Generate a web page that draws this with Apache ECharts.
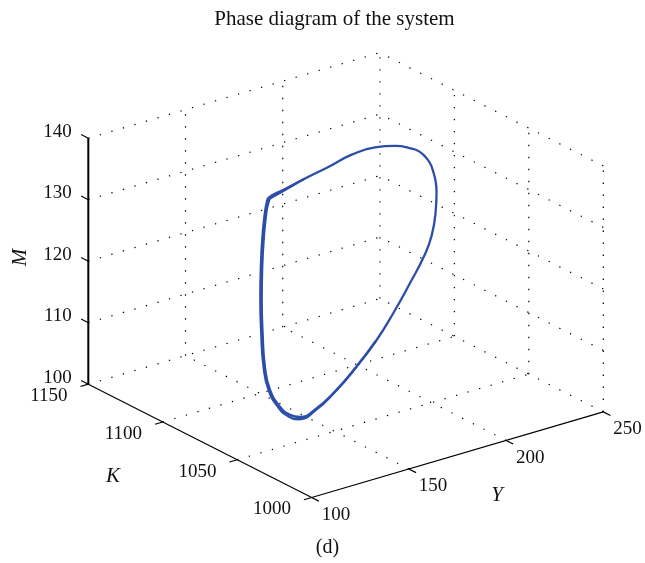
<!DOCTYPE html>
<html><head><meta charset="utf-8">
<script src="https://cdn.jsdelivr.net/npm/echarts@6/dist/echarts.min.js"></script>
<style>html,body{margin:0;padding:0;background:#fff}#c{width:645px;height:563px}</style>
</head><body><div id="c"></div>
<script>
// ---- data ----
const titleText = 'Phase diagram of the system';
const captionText = '(d)';
const yTicks = [100, 150, 200, 250];
const kTicks = [1000, 1050, 1100, 1150];
const mTicks = [100, 110, 120, 130, 140];
// limit cycle (Y, K, M)
const cycleY = [128.3,137.6,150.2,164.5,179.6,194.6,208.0,218.9,223.8,228.0,231.3,233.8,235.8,237.0,237.3,235.3,230.8,221.0,208.6,194.7,177.5,159.6,140.9,125.4,117.2,110.5,105.4,104.3,105.4,108.0,112.1,117.6,122.7,125.8];
const cycleK = [1065,1067,1070,1073,1077,1081,1085,1088,1089.5,1091,1092,1093,1094,1095,1096,1096,1095,1092,1087,1080,1071,1061,1050,1041,1037,1035,1035,1037,1040,1044,1049,1055,1060,1063];
const cycleM = [138.0,138.3,138.6,138.8,138.9,138.2,136.7,134.9,133.8,132.4,130.9,129.1,127.2,125.3,121.9,118.3,115.6,112.3,109.2,107.0,105.4,104.5,104.6,105.7,107.3,109.5,112.7,116.3,121.3,126.0,130.4,134.3,137.0,137.6];
// earlier pass of the trajectory (converging onto the cycle)
const transY = [194.3,176.9,158.9,140.2,124.7,116.5,109.8,104.7,103.6,104.7,107.3,111.4,116.9,122.0,125.1,127.7,137.1,150.0];
const transK = [1080,1071,1061,1050,1041,1037,1035,1035,1037,1040,1044,1049,1055,1060,1063,1065,1067,1070];
const transM = [106.9,105.2,104.3,104.3,105.4,107.1,109.4,112.7,116.4,121.4,126.1,130.5,134.4,137.1,137.8,138.2,138.4,138.6];

// ---- view (layout) ----
const lim = {y:[100,250], k:[1000,1150], m:[100,140]};
const view = {ox:311.7, oy:497.5, ex:[291.6,-85.6], ey:[-223.4,-113.3], ez:[0,-246]};
function proj(Y, K, M) {
  const u = (Y - lim.y[0]) / (lim.y[1] - lim.y[0]);
  const v = (K - lim.k[0]) / (lim.k[1] - lim.k[0]);
  const w = (M - lim.m[0]) / (lim.m[1] - lim.m[0]);
  return [view.ox + u*view.ex[0] + v*view.ey[0] + w*view.ez[0],
          view.oy + u*view.ex[1] + v*view.ey[1] + w*view.ez[1]];
}
const FONT = '"Liberation Serif", "Times New Roman", serif';

// grid segments
const gridSegs = [];
function seg(arr, a, b){ const p = proj(a[0],a[1],a[2]), q = proj(b[0],b[1],b[2]); arr.push([p[0],p[1],q[0],q[1]]); }
const [y0,y1] = lim.y, [k0,k1] = lim.k, [m0,m1] = lim.m;
// floor
yTicks.forEach(y => { if (y !== y0) seg(gridSegs, [y,k0,m0], [y,k1,m0]); });
kTicks.forEach(k => { if (k !== k0) seg(gridSegs, [y0,k,m0], [y1,k,m0]); });
// back wall K = max
yTicks.forEach(y => { if (y !== y0) seg(gridSegs, [y,k1,m0], [y,k1,m1]); });
mTicks.forEach(m => { if (m !== m0) seg(gridSegs, [y0,k1,m], [y1,k1,m]); });
// back wall Y = max
kTicks.forEach(k => { if (k !== k1) seg(gridSegs, [y1,k,m0], [y1,k,m1]); });
mTicks.forEach(m => { if (m !== m0) seg(gridSegs, [y1,k0,m], [y1,k1,m]); });

// axis lines and ticks
const axisSegs = [], mAxisSegs = [];
seg(axisSegs, [y0,k0,m0], [y0,k1,m0]);
seg(axisSegs, [y0,k0,m0], [y1,k0,m0]);
seg(mAxisSegs, [y0,k1,m0], [y0,k1,m1]);
kTicks.forEach(k => seg(axisSegs, [y0,k,m0], [y0-4,k,m0]));
yTicks.forEach(y => seg(axisSegs, [y,k0,m0], [y,k0-4.8,m0]));
mTicks.forEach(m => seg(axisSegs, [y0,k1,m], [y0,k1+4.8,m]));

// texts
const texts = [];
mTicks.forEach(m => { const p = proj(y0,k1,m); texts.push({x:p[0]-16.6, y:p[1]-6.5, text:String(m), align:'right', size:19}); });
kTicks.forEach(k => { const p = proj(y0,k,m0); texts.push({x:p[0]-20.7, y:p[1]+11.8, text:String(k), align:'right', size:19}); });
yTicks.forEach(y => { const p = proj(y,k0,m0); texts.push({x:p[0]+24.2, y:p[1]+17.3, text:String(y), align:'center', size:19}); });
texts.push({x:20.8, y:257.5, text:'M', align:'center', size:21, italic:true, rot:Math.PI/2});
texts.push({x:113, y:476.7, text:'K', align:'center', size:21, italic:true});
texts.push({x:497, y:495.8, text:'Y', align:'center', size:21, italic:true});
texts.push({x:327.5, y:548, text:captionText, align:'center', size:20});
texts.push({x:334.5, y:19.5, text:titleText, align:'center', size:21});

function segSeries(data, style, z) {
  return {
    type:'custom', coordinateSystem:'cartesian2d', silent:true, z:z, data:data,
    renderItem(params, api) {
      const p = api.coord([api.value(0), api.value(1)]);
      const q = api.coord([api.value(2), api.value(3)]);
      return {type:'line', shape:{x1:p[0], y1:p[1], x2:q[0], y2:q[1]}, style:style};
    }
  };
}
const cyclePts = cycleY.map((y,i) => proj(y, cycleK[i], cycleM[i]));
cyclePts.push(cyclePts[0]);
const transPts = transY.map((y,i) => proj(y, transK[i], transM[i]));
const curveColor = '#2c4ea8';

const chart = echarts.init(document.getElementById('c'), null, {renderer:'canvas'});
chart.setOption({
  animation:false,
  backgroundColor:'#fff',
  grid:{left:0, right:0, top:0, bottom:0},
  xAxis:{type:'value', min:0, max:645, show:false},
  yAxis:{type:'value', min:0, max:563, inverse:true, show:false},
  series:[
    segSeries(gridSegs, {stroke:'#000', lineWidth:1.2, lineDash:[1.3,10.7]}, 1),
    segSeries(axisSegs, {stroke:'#000', lineWidth:1.2}, 2),
    segSeries(mAxisSegs, {stroke:'#000', lineWidth:2}, 2),
    {type:'line', data:transPts, showSymbol:false, smooth:0.5, z:3, silent:true,
     lineStyle:{color:curveColor, width:2.4}},
    {type:'line', data:cyclePts, showSymbol:false, smooth:0.5, z:3, silent:true,
     lineStyle:{color:curveColor, width:2.3}},
    {type:'custom', coordinateSystem:'cartesian2d', silent:true, z:4,
     data:texts.map(t => [t.x, t.y]),
     renderItem(params, api) {
       const t = texts[params.dataIndex];
       const p = api.coord([api.value(0), api.value(1)]);
       return {type:'text', x:p[0], y:p[1], rotation:t.rot || 0,
         style:{text:t.text, fill:'#111', fontFamily:FONT, fontSize:t.size,
                fontStyle:t.italic ? 'italic' : 'normal', align:t.align, verticalAlign:'middle'}};
     }}
  ]
});
</script></body></html>
